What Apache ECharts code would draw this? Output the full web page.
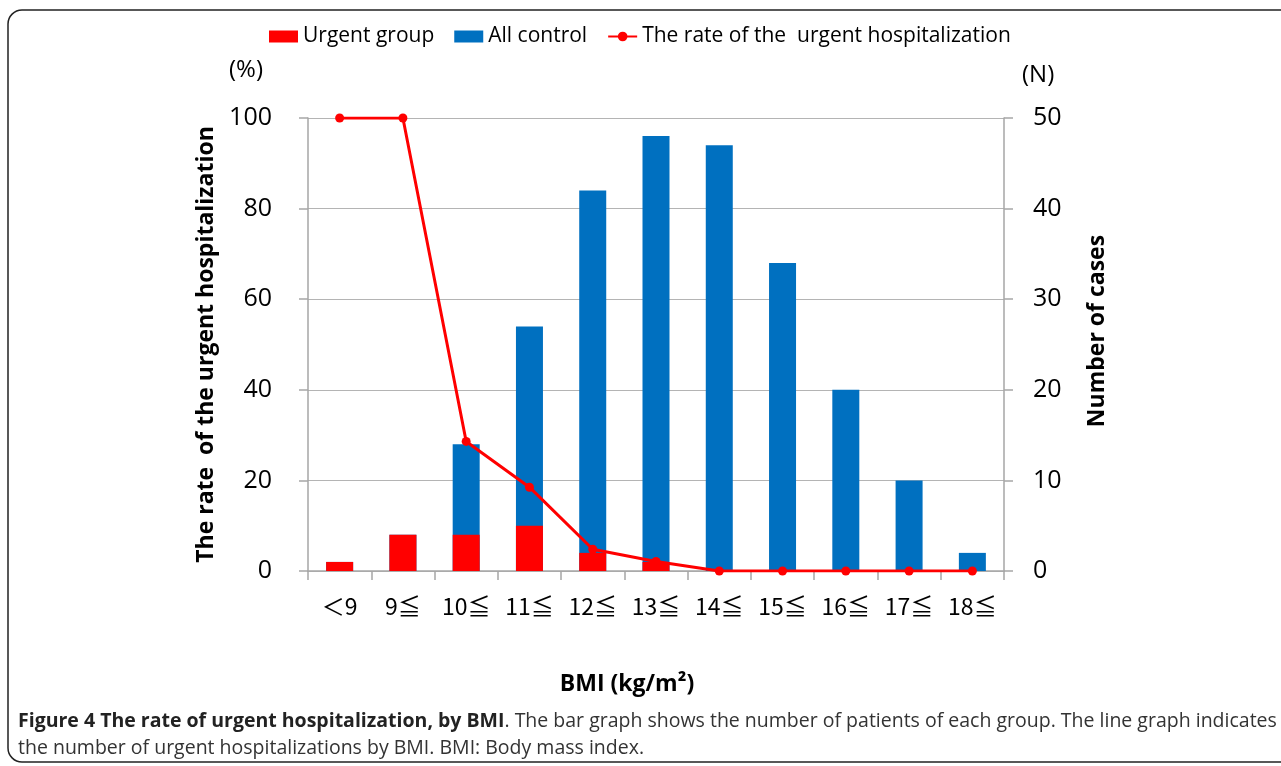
<!DOCTYPE html>
<html>
<head>
<meta charset="utf-8">
<script src="https://cdn.jsdelivr.net/npm/echarts@6/dist/echarts.min.js"></script>
<style>
  html, body { margin: 0; padding: 0; background: #fff; }
  #chart { width: 1281px; height: 766px; }
</style>
</head>
<body>
<div id="chart"></div>
<script>
// BMI groups
const categories = ['＜9', '9≦', '10≦', '11≦', '12≦', '13≦', '14≦', '15≦', '16≦', '17≦', '18≦'];
// number of cases (right axis, N)
const urgentGroup = [1, 4, 4, 5, 2, 1, 0, 0, 0, 0, 0];
const allControl = [1, 4, 14, 27, 42, 48, 47, 34, 20, 10, 2];
// rate of urgent hospitalization (left axis, %)
const urgentRate = [100, 100, 28.6, 18.5, 4.8, 2.1, 0, 0, 0, 0, 0];

const FONT = '"Open Sans", "Noto Sans", "Noto Sans CJK JP", sans-serif';
const CJK = '"Noto Sans CJK JP", "Open Sans", sans-serif';
const axisGrey = '#a6a6a6';

const chart = echarts.init(document.getElementById('chart'));
chart.setOption({
  animation: false,
  textStyle: { fontFamily: FONT },
  legend: {
    left: 264, top: 21,
    itemWidth: 29, itemHeight: 12, itemGap: 20,
    textStyle: { fontSize: 21, color: '#000', fontFamily: FONT },
    data: [
      { name: 'Urgent group', icon: 'rect' },
      { name: 'All control', icon: 'rect' },
      { name: 'The rate of the  urgent hospitalization' },
    ],
  },
  grid: { left: 308, right: 277, top: 118, bottom: 195 },
  xAxis: {
    type: 'category', data: categories,
    axisLine: { lineStyle: { color: axisGrey, width: 1.5 } },
    axisTick: { show: true, length: 9, lineStyle: { color: axisGrey, width: 1.5 } },
    axisLabel: { fontSize: 23, color: '#000', margin: 24, interval: 0, fontFamily: CJK },
  },
  yAxis: [
    {
      type: 'value', min: 0, max: 100, interval: 20, position: 'left',
      axisLine: { show: true, lineStyle: { color: axisGrey, width: 1.5 } },
      axisTick: { show: true, length: 9, lineStyle: { color: axisGrey, width: 1.5 } },
      axisLabel: { fontSize: 25, color: '#000', margin: 36 },
      splitLine: { lineStyle: { color: '#b4b4b4', width: 1.2 } },
      name: 'The rate  of the urgent hospitalization', nameLocation: 'middle',
      nameRotate: 90, nameGap: 84,
      nameTextStyle: { fontSize: 23, fontWeight: 'bold', color: '#000' },
    },
    {
      type: 'value', min: 0, max: 50, interval: 10, position: 'right',
      axisLine: { show: true, lineStyle: { color: axisGrey, width: 1.5 } },
      axisTick: { show: true, length: 9, lineStyle: { color: axisGrey, width: 1.5 } },
      axisLabel: { fontSize: 25, color: '#000', margin: 29 },
      splitLine: { show: false },
    },
  ],
  graphic: [
    { type: 'rect', shape: { x: 8, y: 10, width: 1300, height: 752, r: 14 },
      style: { fill: 'none', stroke: '#222', lineWidth: 1.5 }, silent: true },
    { type: 'text', left: 229, top: 58,
      style: { text: '(%)', font: '24px ' + FONT, fill: '#000' } },
    { type: 'text', left: 1022, top: 63,
      style: { text: '(N)', font: '24px ' + FONT, fill: '#000' } },
    { type: 'text', x: 1097, y: 331, rotation: Math.PI / 2,
      style: { text: 'Number of cases', font: 'bold 23px ' + FONT, fill: '#000',
        align: 'center', verticalAlign: 'middle' } },
    { type: 'text', x: 627, y: 684,
      style: { text: 'BMI (kg/m²)', font: 'bold 23px ' + FONT, fill: '#000',
        align: 'center', verticalAlign: 'middle' } },
    { type: 'text', left: 18, top: 712,
      style: {
        text: '{b|Figure 4 The rate of urgent hospitalization, by BMI}{n|. The bar graph shows the number of patients of each group. The line graph indicates}',
        rich: {
          b: { fontSize: 19.5, fontWeight: 'bold', fill: '#222', fontFamily: FONT },
          n: { fontSize: 19.5, fill: '#333', fontFamily: FONT },
        },
      } },
    { type: 'text', left: 18, top: 739,
      style: { text: 'the number of urgent hospitalizations by BMI. BMI: Body mass index.',
        font: '19.5px ' + FONT, fill: '#333' } },
  ],
  series: [
    {
      name: 'All control', type: 'bar', yAxisIndex: 1, barWidth: 27,
      itemStyle: { color: '#0070c0' }, data: allControl,
    },
    {
      name: 'Urgent group', type: 'bar', yAxisIndex: 1, barWidth: 27, barGap: '-100%',
      itemStyle: { color: '#ff0000' }, data: urgentGroup,
    },
    {
      name: 'The rate of the  urgent hospitalization', type: 'line', yAxisIndex: 0,
      symbol: 'circle', symbolSize: 9, z: 5,
      lineStyle: { color: '#ff0000', width: 3 },
      itemStyle: { color: '#ff0000' }, data: urgentRate,
    },
  ],
});
</script>
</body>
</html>
